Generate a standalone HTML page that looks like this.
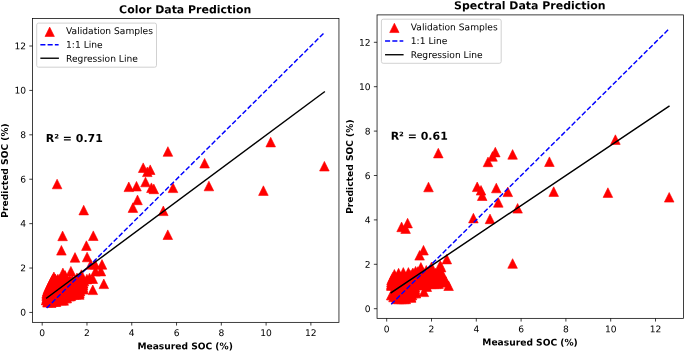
<!DOCTYPE html>
<html lang="en">
<head>
<meta charset="utf-8">
<title>SOC Prediction: Color vs Spectral Data</title>
<style>
html,body{margin:0;padding:0;background:#fff;}
body{width:685px;height:351px;overflow:hidden;}
svg{display:block;}
</style>
</head>
<body>
<svg width="685" height="351" viewBox="0 0 685 351">
<rect width="685" height="351" fill="#fff"/>
<g id="panel-color">
<clipPath id="clipcolor"><rect x="32.5" y="18.5" width="306.45" height="303.85"/></clipPath>
<path clip-path="url(#clipcolor)" fill="#ff0000" stroke="#ff0000" stroke-width="0.6" stroke-linejoin="miter" d="M270.7 137.3L265.9 146.9L275.5 146.9ZM204.6 158.4L199.8 168L209.4 168ZM324.4 161.4L319.6 171L329.2 171ZM208.9 181.2L204.1 190.8L213.7 190.8ZM263.4 185.8L258.6 195.4L268.2 195.4ZM173 183L168.2 192.6L177.8 192.6ZM167.9 146.7L163.1 156.3L172.7 156.3ZM57.1 179.2L52.3 188.8L61.9 188.8ZM143.2 162.9L138.4 172.5L148 172.5ZM150.2 164.9L145.4 174.5L155 174.5ZM147.3 167L142.5 176.6L152.1 176.6ZM145.5 177.2L140.7 186.8L150.3 186.8ZM128.8 182L124 191.6L133.6 191.6ZM136.5 181.4L131.7 191L141.3 191ZM151.4 182.9L146.6 192.5L156.2 192.5ZM153.8 184.1L149 193.7L158.6 193.7ZM137.5 195.1L132.7 204.7L142.3 204.7ZM132.9 202.8L128.1 212.4L137.7 212.4ZM83.7 205.3L78.9 214.9L88.5 214.9ZM163.3 206L158.5 215.6L168.1 215.6ZM167.8 229.9L163 239.5L172.6 239.5ZM62.6 231.1L57.8 240.7L67.4 240.7ZM93.3 230.9L88.5 240.5L98.1 240.5ZM86.4 240.8L81.6 250.4L91.2 250.4ZM61.4 245.5L56.6 255.1L66.2 255.1ZM75 252.6L70.2 262.2L79.8 262.2ZM87.1 252.2L82.3 261.8L91.9 261.8ZM53.9 272L49.1 281.6L58.7 281.6ZM62.9 268.1L58.1 277.7L67.7 277.7ZM65.1 270.6L60.3 280.2L69.9 280.2ZM70.9 266.4L66.1 276L75.7 276ZM77 273L72.2 282.6L81.8 282.6ZM81.4 269.8L76.6 279.4L86.2 279.4ZM90.8 259.6L86 269.2L95.6 269.2ZM95.1 259.6L90.3 269.2L99.9 269.2ZM102 259.6L97.2 269.2L106.8 269.2ZM95.5 266.4L90.7 276L100.3 276ZM100.9 266.3L96.1 275.9L105.7 275.9ZM92.8 273.9L88 283.5L97.6 283.5ZM103.8 279L99 288.6L108.6 288.6ZM86.9 274.3L82.1 283.9L91.7 283.9ZM89.5 273.2L84.7 282.8L94.3 282.8ZM92.8 285L88 294.6L97.6 294.6ZM83 278.4L78.2 288L87.8 288ZM83 284L78.2 293.6L87.8 293.6ZM46.3 295L41.5 304.6L51.1 304.6ZM47.6 297.5L42.8 307.1L52.4 307.1ZM51.2 297.9L46.4 307.5L56 307.5ZM56.1 296.8L51.3 306.4L60.9 306.4ZM63.7 295.6L58.9 305.2L68.5 305.2ZM66.8 293.2L62 302.8L71.6 302.8ZM70.9 291L66.1 300.6L75.7 300.6ZM79.3 289.7L74.5 299.3L84.1 299.3ZM52.9 274.2L48.1 283.8L57.7 283.8ZM55.4 274.2L50.6 283.8L60.2 283.8ZM57.9 274.2L53.1 283.8L62.7 283.8ZM60 274.2L55.2 283.8L64.8 283.8ZM52.4 275.2L47.6 284.8L57.2 284.8ZM54.9 275.2L50.1 284.8L59.7 284.8ZM57.4 275.2L52.6 284.8L62.2 284.8ZM59.9 275.2L55.1 284.8L64.7 284.8ZM62.4 275.2L57.6 284.8L67.2 284.8ZM64.9 275.2L60.1 284.8L69.7 284.8ZM67.4 275.2L62.6 284.8L72.2 284.8ZM69.9 275.2L65.1 284.8L74.7 284.8ZM72.4 275.2L67.6 284.8L77.2 284.8ZM74.9 275.2L70.1 284.8L79.7 284.8ZM77.4 275.2L72.6 284.8L82.2 284.8ZM78 275.2L73.2 284.8L82.8 284.8ZM51.9 276.2L47.1 285.8L56.7 285.8ZM54.4 276.2L49.6 285.8L59.2 285.8ZM56.9 276.2L52.1 285.8L61.7 285.8ZM59.4 276.2L54.6 285.8L64.2 285.8ZM61.9 276.2L57.1 285.8L66.7 285.8ZM64.4 276.2L59.6 285.8L69.2 285.8ZM66.9 276.2L62.1 285.8L71.7 285.8ZM69.4 276.2L64.6 285.8L74.2 285.8ZM71.9 276.2L67.1 285.8L76.7 285.8ZM74.4 276.2L69.6 285.8L79.2 285.8ZM76.9 276.2L72.1 285.8L81.7 285.8ZM79.4 276.2L74.6 285.8L84.2 285.8ZM81.9 276.2L77.1 285.8L86.7 285.8ZM84 276.2L79.2 285.8L88.8 285.8ZM50.9 278.2L46.1 287.8L55.7 287.8ZM53.4 278.2L48.6 287.8L58.2 287.8ZM55.9 278.2L51.1 287.8L60.7 287.8ZM58.4 278.2L53.6 287.8L63.2 287.8ZM60.9 278.2L56.1 287.8L65.7 287.8ZM63.4 278.2L58.6 287.8L68.2 287.8ZM65.9 278.2L61.1 287.8L70.7 287.8ZM68.4 278.2L63.6 287.8L73.2 287.8ZM70.9 278.2L66.1 287.8L75.7 287.8ZM73.4 278.2L68.6 287.8L78.2 287.8ZM75.9 278.2L71.1 287.8L80.7 287.8ZM78.4 278.2L73.6 287.8L83.2 287.8ZM80.9 278.2L76.1 287.8L85.7 287.8ZM83 278.2L78.2 287.8L87.8 287.8ZM49.9 280.2L45.1 289.8L54.7 289.8ZM52.4 280.2L47.6 289.8L57.2 289.8ZM54.9 280.2L50.1 289.8L59.7 289.8ZM57.4 280.2L52.6 289.8L62.2 289.8ZM59.9 280.2L55.1 289.8L64.7 289.8ZM62.4 280.2L57.6 289.8L67.2 289.8ZM64.9 280.2L60.1 289.8L69.7 289.8ZM67.4 280.2L62.6 289.8L72.2 289.8ZM69.9 280.2L65.1 289.8L74.7 289.8ZM72.4 280.2L67.6 289.8L77.2 289.8ZM74.9 280.2L70.1 289.8L79.7 289.8ZM77.4 280.2L72.6 289.8L82.2 289.8ZM79.9 280.2L75.1 289.8L84.7 289.8ZM82.4 280.2L77.6 289.8L87.2 289.8ZM83 280.2L78.2 289.8L87.8 289.8ZM48.9 282.2L44.1 291.8L53.7 291.8ZM51.4 282.2L46.6 291.8L56.2 291.8ZM53.9 282.2L49.1 291.8L58.7 291.8ZM56.4 282.2L51.6 291.8L61.2 291.8ZM58.9 282.2L54.1 291.8L63.7 291.8ZM61.4 282.2L56.6 291.8L66.2 291.8ZM63.9 282.2L59.1 291.8L68.7 291.8ZM66.4 282.2L61.6 291.8L71.2 291.8ZM68.9 282.2L64.1 291.8L73.7 291.8ZM71.4 282.2L66.6 291.8L76.2 291.8ZM73.9 282.2L69.1 291.8L78.7 291.8ZM76.4 282.2L71.6 291.8L81.2 291.8ZM78.9 282.2L74.1 291.8L83.7 291.8ZM81.4 282.2L76.6 291.8L86.2 291.8ZM83 282.2L78.2 291.8L87.8 291.8ZM47.9 284.2L43.1 293.8L52.7 293.8ZM50.4 284.2L45.6 293.8L55.2 293.8ZM52.9 284.2L48.1 293.8L57.7 293.8ZM55.4 284.2L50.6 293.8L60.2 293.8ZM57.9 284.2L53.1 293.8L62.7 293.8ZM60.4 284.2L55.6 293.8L65.2 293.8ZM62.9 284.2L58.1 293.8L67.7 293.8ZM65.4 284.2L60.6 293.8L70.2 293.8ZM67.9 284.2L63.1 293.8L72.7 293.8ZM70.4 284.2L65.6 293.8L75.2 293.8ZM72.9 284.2L68.1 293.8L77.7 293.8ZM75.4 284.2L70.6 293.8L80.2 293.8ZM77.9 284.2L73.1 293.8L82.7 293.8ZM80.4 284.2L75.6 293.8L85.2 293.8ZM82.9 284.2L78.1 293.8L87.7 293.8ZM83 284.2L78.2 293.8L87.8 293.8ZM47.2 286.2L42.4 295.8L52 295.8ZM49.7 286.2L44.9 295.8L54.5 295.8ZM52.2 286.2L47.4 295.8L57 295.8ZM54.7 286.2L49.9 295.8L59.5 295.8ZM57.2 286.2L52.4 295.8L62 295.8ZM59.7 286.2L54.9 295.8L64.5 295.8ZM62.2 286.2L57.4 295.8L67 295.8ZM64.7 286.2L59.9 295.8L69.5 295.8ZM67.2 286.2L62.4 295.8L72 295.8ZM69.7 286.2L64.9 295.8L74.5 295.8ZM72.2 286.2L67.4 295.8L77 295.8ZM74.7 286.2L69.9 295.8L79.5 295.8ZM77.2 286.2L72.4 295.8L82 295.8ZM79.7 286.2L74.9 295.8L84.5 295.8ZM80 286.2L75.2 295.8L84.8 295.8ZM46.7 288.2L41.9 297.8L51.5 297.8ZM49.2 288.2L44.4 297.8L54 297.8ZM51.7 288.2L46.9 297.8L56.5 297.8ZM54.2 288.2L49.4 297.8L59 297.8ZM56.7 288.2L51.9 297.8L61.5 297.8ZM59.2 288.2L54.4 297.8L64 297.8ZM61.7 288.2L56.9 297.8L66.5 297.8ZM64.2 288.2L59.4 297.8L69 297.8ZM66.7 288.2L61.9 297.8L71.5 297.8ZM69.2 288.2L64.4 297.8L74 297.8ZM71.7 288.2L66.9 297.8L76.5 297.8ZM74.2 288.2L69.4 297.8L79 297.8ZM76.7 288.2L71.9 297.8L81.5 297.8ZM79.2 288.2L74.4 297.8L84 297.8ZM79.3 288.2L74.5 297.8L84.1 297.8ZM46.7 289.7L41.9 299.3L51.5 299.3ZM49.2 289.7L44.4 299.3L54 299.3ZM51.7 289.7L46.9 299.3L56.5 299.3ZM54.2 289.7L49.4 299.3L59 299.3ZM56.7 289.7L51.9 299.3L61.5 299.3ZM59.2 289.7L54.4 299.3L64 299.3ZM61.7 289.7L56.9 299.3L66.5 299.3ZM64.2 289.7L59.4 299.3L69 299.3ZM66.7 289.7L61.9 299.3L71.5 299.3ZM69.2 289.7L64.4 299.3L74 299.3ZM71.7 289.7L66.9 299.3L76.5 299.3ZM74.2 289.7L69.4 299.3L79 299.3ZM76 289.7L71.2 299.3L80.8 299.3ZM46.7 291.2L41.9 300.8L51.5 300.8ZM49.2 291.2L44.4 300.8L54 300.8ZM51.7 291.2L46.9 300.8L56.5 300.8ZM54.2 291.2L49.4 300.8L59 300.8ZM56.7 291.2L51.9 300.8L61.5 300.8ZM59.2 291.2L54.4 300.8L64 300.8ZM61.7 291.2L56.9 300.8L66.5 300.8ZM64.2 291.2L59.4 300.8L69 300.8ZM66.7 291.2L61.9 300.8L71.5 300.8ZM69.2 291.2L64.4 300.8L74 300.8ZM70 291.2L65.2 300.8L74.8 300.8ZM46.7 293.2L41.9 302.8L51.5 302.8ZM49.2 293.2L44.4 302.8L54 302.8ZM51.7 293.2L46.9 302.8L56.5 302.8ZM54.2 293.2L49.4 302.8L59 302.8ZM56.7 293.2L51.9 302.8L61.5 302.8ZM59.2 293.2L54.4 302.8L64 302.8ZM61.7 293.2L56.9 302.8L66.5 302.8ZM64.2 293.2L59.4 302.8L69 302.8ZM66 293.2L61.2 302.8L70.8 302.8ZM46.3 295.2L41.5 304.8L51.1 304.8ZM48.8 295.2L44 304.8L53.6 304.8ZM51.3 295.2L46.5 304.8L56.1 304.8ZM53.8 295.2L49 304.8L58.6 304.8ZM56.3 295.2L51.5 304.8L61.1 304.8ZM58.8 295.2L54 304.8L63.6 304.8ZM61.3 295.2L56.5 304.8L66.1 304.8ZM62 295.2L57.2 304.8L66.8 304.8ZM47.6 296.7L42.8 306.3L52.4 306.3ZM50.1 296.7L45.3 306.3L54.9 306.3ZM52.6 296.7L47.8 306.3L57.4 306.3ZM55 296.7L50.2 306.3L59.8 306.3Z"/>
<g clip-path="url(#clipcolor)" fill="none">
<path d="M46.68 308.01L324.31 32.68" stroke="#0000ff" stroke-width="1.45" stroke-dasharray="5.07 2.19"/>
<path d="M46.68 298.02L324.31 91.96" stroke="#000" stroke-width="1.45" stroke-linecap="square"/>
</g>
<rect x="32.5" y="18.5" width="306.45" height="303.85" fill="none" stroke="#000" stroke-width="0.75"/>
<path d="M42.2 322.35v3.2M32.5 312.45h-3.2M86.98 322.35v3.2M32.5 268.04h-3.2M131.76 322.35v3.2M32.5 223.63h-3.2M176.54 322.35v3.2M32.5 179.23h-3.2M221.32 322.35v3.2M32.5 134.82h-3.2M266.1 322.35v3.2M32.5 90.41h-3.2M310.88 322.35v3.2M32.5 46h-3.2" stroke="#000" stroke-width="0.75" fill="none"/>
<g font-family="DejaVu Sans, Liberation Sans, sans-serif" font-size="9.13" fill="#000">
<text x="42.2" y="336.03" text-anchor="middle" transform="rotate(0.03 42.2 336.03)">0</text>
<text x="86.98" y="336.03" text-anchor="middle" transform="rotate(0.03 86.98 336.03)">2</text>
<text x="131.76" y="336.03" text-anchor="middle" transform="rotate(0.03 131.76 336.03)">4</text>
<text x="176.54" y="336.03" text-anchor="middle" transform="rotate(0.03 176.54 336.03)">6</text>
<text x="221.32" y="336.03" text-anchor="middle" transform="rotate(0.03 221.32 336.03)">8</text>
<text x="266.1" y="336.03" text-anchor="middle" transform="rotate(0.03 266.1 336.03)">10</text>
<text x="310.88" y="336.03" text-anchor="middle" transform="rotate(0.03 310.88 336.03)">12</text>
<text x="26.11" y="315.63" text-anchor="end" transform="rotate(0.03 26.11 315.63)">0</text>
<text x="26.11" y="271.22" text-anchor="end" transform="rotate(0.03 26.11 271.22)">2</text>
<text x="26.11" y="226.82" text-anchor="end" transform="rotate(0.03 26.11 226.82)">4</text>
<text x="26.11" y="182.41" text-anchor="end" transform="rotate(0.03 26.11 182.41)">6</text>
<text x="26.11" y="138" text-anchor="end" transform="rotate(0.03 26.11 138)">8</text>
<text x="26.11" y="93.59" text-anchor="end" transform="rotate(0.03 26.11 93.59)">10</text>
<text x="26.11" y="49.18" text-anchor="end" transform="rotate(0.03 26.11 49.18)">12</text>
</g>
<g font-family="DejaVu Sans, Liberation Sans, sans-serif" font-weight="bold" fill="#000">
<text x="185.22" y="13.3" text-anchor="middle" font-size="10.96" transform="rotate(0.03 185.22 13.3)">Color Data Prediction</text>
<text x="185.12" y="349.2" text-anchor="middle" font-size="9.13" transform="rotate(0.03 185.12 349.2)">Measured SOC (%)</text>
<text transform="translate(8.2 170.43) rotate(-90)" text-anchor="middle" font-size="9.13">Predicted SOC (%)</text>
<text x="45.8" y="142.1" font-size="10.96" transform="rotate(0.03 45.8 142.1)">R² = 0.71</text>
</g>
<rect x="36.7" y="23.1" width="119.8" height="44.1" rx="1.83" fill="#fff" fill-opacity="0.8" stroke="#ccc" stroke-width="0.91"/>
<path d="M49.68 27.11L45.01 36.46L54.36 36.46Z" fill="#ff0000" stroke="#ff0000" stroke-width="0.6"/>
<path d="M40.35 44.68H58.61" stroke="#0000ff" stroke-width="1.45" stroke-dasharray="5.07 2.19" fill="none"/>
<path d="M40.35 58.23H58.91" stroke="#000" stroke-width="1.37" fill="none"/>
<g font-family="DejaVu Sans, Liberation Sans, sans-serif" font-size="9.13" fill="#000">
<text x="66.07" y="33.97" transform="rotate(0.03 66.07 33.97)">Validation Samples</text>
<text x="66.07" y="47.87" transform="rotate(0.03 66.07 47.87)">1:1 Line</text>
<text x="66.07" y="61.67" transform="rotate(0.03 66.07 61.67)">Regression Line</text>
</g>
</g>
<g id="panel-spectral">
<clipPath id="clipspectral"><rect x="377.05" y="14.9" width="306.35" height="303.45"/></clipPath>
<path clip-path="url(#clipspectral)" fill="#ff0000" stroke="#ff0000" stroke-width="0.6" stroke-linejoin="miter" d="M438.3 148.3L433.5 157.9L443.1 157.9ZM495.3 147.3L490.5 156.9L500.1 156.9ZM492.5 151.6L487.7 161.2L497.3 161.2ZM488 157.1L483.2 166.7L492.8 166.7ZM512.6 149.6L507.8 159.2L517.4 159.2ZM549.4 156.9L544.6 166.5L554.2 166.5ZM428.5 182.2L423.7 191.8L433.3 191.8ZM477.2 182L472.4 191.6L482 191.6ZM481 185.5L476.2 195.1L485.8 195.1ZM482.2 190.9L477.4 200.5L487 200.5ZM496.3 183.2L491.5 192.8L501.1 192.8ZM507.8 187L503 196.6L512.6 196.6ZM498.3 197.6L493.5 207.2L503.1 207.2ZM517.6 203.5L512.8 213.1L522.4 213.1ZM615.4 134.8L610.6 144.4L620.2 144.4ZM553.7 186.8L548.9 196.4L558.5 196.4ZM607.9 187.8L603.1 197.4L612.7 197.4ZM669.2 192.5L664.4 202.1L674 202.1ZM473.4 213.3L468.6 222.9L478.2 222.9ZM490 214.1L485.2 223.7L494.8 223.7ZM407.6 218.3L402.8 227.9L412.4 227.9ZM401.6 222.1L396.8 231.7L406.4 231.7ZM405.6 223.8L400.8 233.4L410.4 233.4ZM423.5 245.4L418.7 255L428.3 255ZM419.6 250.5L414.8 260.1L424.4 260.1ZM512.6 258.7L507.8 268.3L517.4 268.3ZM446.8 254.3L442 263.9L451.6 263.9ZM394.4 269.5L389.6 279.1L399.2 279.1ZM398.6 268.3L393.8 277.9L403.4 277.9ZM403.3 267.6L398.5 277.2L408.1 277.2ZM408.4 267.6L403.6 277.2L413.2 277.2ZM412.5 268.6L407.7 278.2L417.3 278.2ZM415.6 266.4L410.8 276L420.4 276ZM417.8 266.7L413 276.3L422.6 276.3ZM420.9 262.5L416.1 272.1L425.7 272.1ZM426.3 265.5L421.5 275.1L431.1 275.1ZM431.5 262.1L426.7 271.7L436.3 271.7ZM440.2 260.6L435.4 270.2L445 270.2ZM441.1 262.3L436.3 271.9L445.9 271.9ZM441.7 268.2L436.9 277.8L446.5 277.8ZM446 276.7L441.2 286.3L450.8 286.3ZM448.6 280.9L443.8 290.5L453.4 290.5ZM391.4 290.2L386.6 299.8L396.2 299.8ZM391.4 280.8L386.6 290.4L396.2 290.4ZM411.1 292.7L406.3 302.3L415.9 302.3ZM415.8 288.2L411 297.8L420.6 297.8ZM423.9 287L419.1 296.6L428.7 296.6ZM426.8 281.9L422 291.5L431.6 291.5ZM413 268.2L408.2 277.8L417.8 277.8ZM415.5 268.2L410.7 277.8L420.3 277.8ZM418 268.2L413.2 277.8L422.8 277.8ZM420.5 268.2L415.7 277.8L425.3 277.8ZM423 268.2L418.2 277.8L427.8 277.8ZM425.5 268.2L420.7 277.8L430.3 277.8ZM428 268.2L423.2 277.8L432.8 277.8ZM430.5 268.2L425.7 277.8L435.3 277.8ZM433 268.2L428.2 277.8L437.8 277.8ZM435.5 268.2L430.7 277.8L440.3 277.8ZM438 268.2L433.2 277.8L442.8 277.8ZM440.5 268.2L435.7 277.8L445.3 277.8ZM441 268.2L436.2 277.8L445.8 277.8ZM410 270.2L405.2 279.8L414.8 279.8ZM412.5 270.2L407.7 279.8L417.3 279.8ZM415 270.2L410.2 279.8L419.8 279.8ZM417.5 270.2L412.7 279.8L422.3 279.8ZM420 270.2L415.2 279.8L424.8 279.8ZM422.5 270.2L417.7 279.8L427.3 279.8ZM425 270.2L420.2 279.8L429.8 279.8ZM427.5 270.2L422.7 279.8L432.3 279.8ZM430 270.2L425.2 279.8L434.8 279.8ZM432.5 270.2L427.7 279.8L437.3 279.8ZM435 270.2L430.2 279.8L439.8 279.8ZM437.5 270.2L432.7 279.8L442.3 279.8ZM440 270.2L435.2 279.8L444.8 279.8ZM441.5 270.2L436.7 279.8L446.3 279.8ZM393 272.2L388.2 281.8L397.8 281.8ZM395.5 272.2L390.7 281.8L400.3 281.8ZM398 272.2L393.2 281.8L402.8 281.8ZM400.5 272.2L395.7 281.8L405.3 281.8ZM403 272.2L398.2 281.8L407.8 281.8ZM405.5 272.2L400.7 281.8L410.3 281.8ZM408 272.2L403.2 281.8L412.8 281.8ZM410.5 272.2L405.7 281.8L415.3 281.8ZM413 272.2L408.2 281.8L417.8 281.8ZM415.5 272.2L410.7 281.8L420.3 281.8ZM418 272.2L413.2 281.8L422.8 281.8ZM420.5 272.2L415.7 281.8L425.3 281.8ZM423 272.2L418.2 281.8L427.8 281.8ZM425.5 272.2L420.7 281.8L430.3 281.8ZM428 272.2L423.2 281.8L432.8 281.8ZM430.5 272.2L425.7 281.8L435.3 281.8ZM433 272.2L428.2 281.8L437.8 281.8ZM435.5 272.2L430.7 281.8L440.3 281.8ZM438 272.2L433.2 281.8L442.8 281.8ZM440.5 272.2L435.7 281.8L445.3 281.8ZM442 272.2L437.2 281.8L446.8 281.8ZM392.3 273.7L387.5 283.3L397.1 283.3ZM394.8 273.7L390 283.3L399.6 283.3ZM397.3 273.7L392.5 283.3L402.1 283.3ZM399.8 273.7L395 283.3L404.6 283.3ZM402.3 273.7L397.5 283.3L407.1 283.3ZM404.8 273.7L400 283.3L409.6 283.3ZM407.3 273.7L402.5 283.3L412.1 283.3ZM409.8 273.7L405 283.3L414.6 283.3ZM412.3 273.7L407.5 283.3L417.1 283.3ZM414.8 273.7L410 283.3L419.6 283.3ZM417.3 273.7L412.5 283.3L422.1 283.3ZM419.8 273.7L415 283.3L424.6 283.3ZM422.3 273.7L417.5 283.3L427.1 283.3ZM424.8 273.7L420 283.3L429.6 283.3ZM427.3 273.7L422.5 283.3L432.1 283.3ZM429.8 273.7L425 283.3L434.6 283.3ZM432.3 273.7L427.5 283.3L437.1 283.3ZM434.8 273.7L430 283.3L439.6 283.3ZM437.3 273.7L432.5 283.3L442.1 283.3ZM439.8 273.7L435 283.3L444.6 283.3ZM442.3 273.7L437.5 283.3L447.1 283.3ZM442.5 273.7L437.7 283.3L447.3 283.3ZM391.5 275.2L386.7 284.8L396.3 284.8ZM394 275.2L389.2 284.8L398.8 284.8ZM396.5 275.2L391.7 284.8L401.3 284.8ZM399 275.2L394.2 284.8L403.8 284.8ZM401.5 275.2L396.7 284.8L406.3 284.8ZM404 275.2L399.2 284.8L408.8 284.8ZM406.5 275.2L401.7 284.8L411.3 284.8ZM409 275.2L404.2 284.8L413.8 284.8ZM411.5 275.2L406.7 284.8L416.3 284.8ZM414 275.2L409.2 284.8L418.8 284.8ZM416.5 275.2L411.7 284.8L421.3 284.8ZM419 275.2L414.2 284.8L423.8 284.8ZM421.5 275.2L416.7 284.8L426.3 284.8ZM424 275.2L419.2 284.8L428.8 284.8ZM426.5 275.2L421.7 284.8L431.3 284.8ZM429 275.2L424.2 284.8L433.8 284.8ZM431.5 275.2L426.7 284.8L436.3 284.8ZM434 275.2L429.2 284.8L438.8 284.8ZM436.5 275.2L431.7 284.8L441.3 284.8ZM439 275.2L434.2 284.8L443.8 284.8ZM441.5 275.2L436.7 284.8L446.3 284.8ZM444 275.2L439.2 284.8L448.8 284.8ZM391.4 277.2L386.6 286.8L396.2 286.8ZM393.9 277.2L389.1 286.8L398.7 286.8ZM396.4 277.2L391.6 286.8L401.2 286.8ZM398.9 277.2L394.1 286.8L403.7 286.8ZM401.4 277.2L396.6 286.8L406.2 286.8ZM403.9 277.2L399.1 286.8L408.7 286.8ZM406.4 277.2L401.6 286.8L411.2 286.8ZM408.9 277.2L404.1 286.8L413.7 286.8ZM411.4 277.2L406.6 286.8L416.2 286.8ZM413.9 277.2L409.1 286.8L418.7 286.8ZM416.4 277.2L411.6 286.8L421.2 286.8ZM418.9 277.2L414.1 286.8L423.7 286.8ZM421.4 277.2L416.6 286.8L426.2 286.8ZM423.9 277.2L419.1 286.8L428.7 286.8ZM426.4 277.2L421.6 286.8L431.2 286.8ZM428.9 277.2L424.1 286.8L433.7 286.8ZM431.4 277.2L426.6 286.8L436.2 286.8ZM433.9 277.2L429.1 286.8L438.7 286.8ZM436.4 277.2L431.6 286.8L441.2 286.8ZM438.9 277.2L434.1 286.8L443.7 286.8ZM441.4 277.2L436.6 286.8L446.2 286.8ZM443.9 277.2L439.1 286.8L448.7 286.8ZM446 277.2L441.2 286.8L450.8 286.8ZM391.4 279L386.6 288.6L396.2 288.6ZM393.9 279L389.1 288.6L398.7 288.6ZM396.4 279L391.6 288.6L401.2 288.6ZM398.9 279L394.1 288.6L403.7 288.6ZM401.4 279L396.6 288.6L406.2 288.6ZM403.9 279L399.1 288.6L408.7 288.6ZM406.4 279L401.6 288.6L411.2 288.6ZM408.9 279L404.1 288.6L413.7 288.6ZM411.4 279L406.6 288.6L416.2 288.6ZM413.9 279L409.1 288.6L418.7 288.6ZM416.4 279L411.6 288.6L421.2 288.6ZM418.9 279L414.1 288.6L423.7 288.6ZM421.4 279L416.6 288.6L426.2 288.6ZM423.9 279L419.1 288.6L428.7 288.6ZM426.4 279L421.6 288.6L431.2 288.6ZM428.9 279L424.1 288.6L433.7 288.6ZM431.4 279L426.6 288.6L436.2 288.6ZM433.9 279L429.1 288.6L438.7 288.6ZM436.4 279L431.6 288.6L441.2 288.6ZM438.5 279L433.7 288.6L443.3 288.6ZM391.4 280.1L386.6 289.7L396.2 289.7ZM393.9 280.1L389.1 289.7L398.7 289.7ZM396.4 280.1L391.6 289.7L401.2 289.7ZM398.9 280.1L394.1 289.7L403.7 289.7ZM401.4 280.1L396.6 289.7L406.2 289.7ZM403.9 280.1L399.1 289.7L408.7 289.7ZM406.4 280.1L401.6 289.7L411.2 289.7ZM408.9 280.1L404.1 289.7L413.7 289.7ZM411.4 280.1L406.6 289.7L416.2 289.7ZM413.9 280.1L409.1 289.7L418.7 289.7ZM416.4 280.1L411.6 289.7L421.2 289.7ZM418.9 280.1L414.1 289.7L423.7 289.7ZM421.4 280.1L416.6 289.7L426.2 289.7ZM423.9 280.1L419.1 289.7L428.7 289.7ZM426 280.1L421.2 289.7L430.8 289.7ZM395.8 282.2L391 291.8L400.6 291.8ZM398.3 282.2L393.5 291.8L403.1 291.8ZM400.8 282.2L396 291.8L405.6 291.8ZM403.3 282.2L398.5 291.8L408.1 291.8ZM405.8 282.2L401 291.8L410.6 291.8ZM408.3 282.2L403.5 291.8L413.1 291.8ZM410.8 282.2L406 291.8L415.6 291.8ZM413.3 282.2L408.5 291.8L418.1 291.8ZM415 282.2L410.2 291.8L419.8 291.8ZM395.8 284.2L391 293.8L400.6 293.8ZM398.3 284.2L393.5 293.8L403.1 293.8ZM400.8 284.2L396 293.8L405.6 293.8ZM403.3 284.2L398.5 293.8L408.1 293.8ZM405.8 284.2L401 293.8L410.6 293.8ZM408.3 284.2L403.5 293.8L413.1 293.8ZM410.8 284.2L406 293.8L415.6 293.8ZM413.3 284.2L408.5 293.8L418.1 293.8ZM415 284.2L410.2 293.8L419.8 293.8ZM395.8 286.2L391 295.8L400.6 295.8ZM398.3 286.2L393.5 295.8L403.1 295.8ZM400.8 286.2L396 295.8L405.6 295.8ZM403.3 286.2L398.5 295.8L408.1 295.8ZM405.8 286.2L401 295.8L410.6 295.8ZM408.3 286.2L403.5 295.8L413.1 295.8ZM410.8 286.2L406 295.8L415.6 295.8ZM413.3 286.2L408.5 295.8L418.1 295.8ZM415 286.2L410.2 295.8L419.8 295.8ZM395.8 288.2L391 297.8L400.6 297.8ZM398.3 288.2L393.5 297.8L403.1 297.8ZM400.8 288.2L396 297.8L405.6 297.8ZM403.3 288.2L398.5 297.8L408.1 297.8ZM405.8 288.2L401 297.8L410.6 297.8ZM408.3 288.2L403.5 297.8L413.1 297.8ZM410.8 288.2L406 297.8L415.6 297.8ZM413.3 288.2L408.5 297.8L418.1 297.8ZM415.8 288.2L411 297.8L420.6 297.8ZM391.4 290.2L386.6 299.8L396.2 299.8ZM393.9 290.2L389.1 299.8L398.7 299.8ZM396.4 290.2L391.6 299.8L401.2 299.8ZM398.9 290.2L394.1 299.8L403.7 299.8ZM401.4 290.2L396.6 299.8L406.2 299.8ZM403.9 290.2L399.1 299.8L408.7 299.8ZM406.4 290.2L401.6 299.8L411.2 299.8ZM408.9 290.2L404.1 299.8L413.7 299.8ZM411.4 290.2L406.6 299.8L416.2 299.8ZM412 290.2L407.2 299.8L416.8 299.8ZM393.5 292.2L388.7 301.8L398.3 301.8ZM396 292.2L391.2 301.8L400.8 301.8ZM398.5 292.2L393.7 301.8L403.3 301.8ZM401 292.2L396.2 301.8L405.8 301.8ZM403.5 292.2L398.7 301.8L408.3 301.8ZM406 292.2L401.2 301.8L410.8 301.8ZM408.5 292.2L403.7 301.8L413.3 301.8ZM411 292.2L406.2 301.8L415.8 301.8ZM396.5 294.1L391.7 303.7L401.3 303.7ZM399 294.1L394.2 303.7L403.8 303.7ZM401.5 294.1L396.7 303.7L406.3 303.7ZM404 294.1L399.2 303.7L408.8 303.7ZM405.8 294.1L401 303.7L410.6 303.7Z"/>
<g clip-path="url(#clipspectral)" fill="none">
<path d="M391.18 304.26L668.94 28.98" stroke="#0000ff" stroke-width="1.45" stroke-dasharray="5.07 2.19"/>
<path d="M391.18 292.72L668.94 106.24" stroke="#000" stroke-width="1.45" stroke-linecap="square"/>
</g>
<rect x="377.05" y="14.9" width="306.35" height="303.45" fill="none" stroke="#000" stroke-width="0.75"/>
<path d="M386.7 318.35v3.2M377.05 308.7h-3.2M431.5 318.35v3.2M377.05 264.3h-3.2M476.3 318.35v3.2M377.05 219.9h-3.2M521.1 318.35v3.2M377.05 175.5h-3.2M565.9 318.35v3.2M377.05 131.1h-3.2M610.7 318.35v3.2M377.05 86.7h-3.2M655.5 318.35v3.2M377.05 42.3h-3.2" stroke="#000" stroke-width="0.75" fill="none"/>
<g font-family="DejaVu Sans, Liberation Sans, sans-serif" font-size="9.13" fill="#000">
<text x="386.7" y="332.18" text-anchor="middle" transform="rotate(0.03 386.7 332.18)">0</text>
<text x="431.5" y="332.18" text-anchor="middle" transform="rotate(0.03 431.5 332.18)">2</text>
<text x="476.3" y="332.18" text-anchor="middle" transform="rotate(0.03 476.3 332.18)">4</text>
<text x="521.1" y="332.18" text-anchor="middle" transform="rotate(0.03 521.1 332.18)">6</text>
<text x="565.9" y="332.18" text-anchor="middle" transform="rotate(0.03 565.9 332.18)">8</text>
<text x="610.7" y="332.18" text-anchor="middle" transform="rotate(0.03 610.7 332.18)">10</text>
<text x="655.5" y="332.18" text-anchor="middle" transform="rotate(0.03 655.5 332.18)">12</text>
<text x="370.66" y="312.13" text-anchor="end" transform="rotate(0.03 370.66 312.13)">0</text>
<text x="370.66" y="267.73" text-anchor="end" transform="rotate(0.03 370.66 267.73)">2</text>
<text x="370.66" y="223.33" text-anchor="end" transform="rotate(0.03 370.66 223.33)">4</text>
<text x="370.66" y="178.93" text-anchor="end" transform="rotate(0.03 370.66 178.93)">6</text>
<text x="370.66" y="134.53" text-anchor="end" transform="rotate(0.03 370.66 134.53)">8</text>
<text x="370.66" y="90.13" text-anchor="end" transform="rotate(0.03 370.66 90.13)">10</text>
<text x="370.66" y="45.73" text-anchor="end" transform="rotate(0.03 370.66 45.73)">12</text>
</g>
<g font-family="DejaVu Sans, Liberation Sans, sans-serif" font-weight="bold" fill="#000">
<text x="529.83" y="9.2" text-anchor="middle" font-size="10.96" transform="rotate(0.03 529.83 9.2)">Spectral Data Prediction</text>
<text x="530.08" y="345.4" text-anchor="middle" font-size="9.13" transform="rotate(0.03 530.08 345.4)">Measured SOC (%)</text>
<text transform="translate(352.6 166.62) rotate(-90)" text-anchor="middle" font-size="9.13">Predicted SOC (%)</text>
<text x="390.7" y="139.7" font-size="10.96" transform="rotate(0.03 390.7 139.7)">R² = 0.61</text>
</g>
<rect x="381.4" y="19.2" width="119.8" height="44.1" rx="1.83" fill="#fff" fill-opacity="0.8" stroke="#ccc" stroke-width="0.91"/>
<path d="M394.38 23.21L389.71 32.56L399.06 32.56Z" fill="#ff0000" stroke="#ff0000" stroke-width="0.6"/>
<path d="M385.05 40.98H403.31" stroke="#0000ff" stroke-width="1.45" stroke-dasharray="5.07 2.19" fill="none"/>
<path d="M385.05 54.73H403.61" stroke="#000" stroke-width="1.37" fill="none"/>
<g font-family="DejaVu Sans, Liberation Sans, sans-serif" font-size="9.13" fill="#000">
<text x="410.82" y="30.17" transform="rotate(0.03 410.82 30.17)">Validation Samples</text>
<text x="410.82" y="44.02" transform="rotate(0.03 410.82 44.02)">1:1 Line</text>
<text x="410.82" y="58.02" transform="rotate(0.03 410.82 58.02)">Regression Line</text>
</g>
</g>
</svg>
</body>
</html>
